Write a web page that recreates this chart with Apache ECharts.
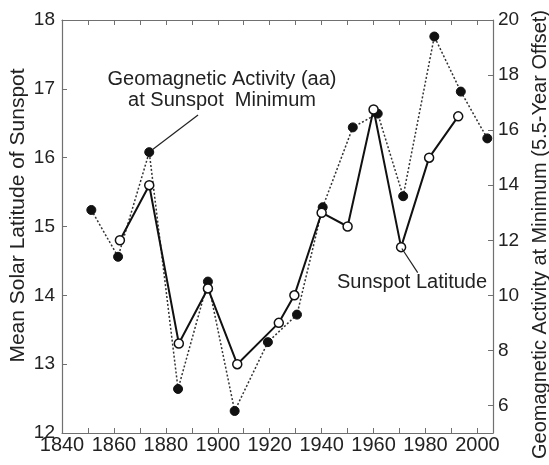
<!DOCTYPE html>
<html>
<head>
<meta charset="utf-8">
<script src="https://cdn.jsdelivr.net/npm/echarts@6/dist/echarts.min.js"></script>
<style>
  html, body { margin: 0; padding: 0; background: #fff; }
  #chart { width: 549px; height: 465px; }
</style>
</head>
<body>
<div id="chart"></div>
<script>
// sunspot latitude (left axis), open circles, solid line
const latYears = [1862.3, 1873.6, 1885.0, 1896.2, 1907.5, 1923.5, 1929.5, 1940.0, 1950.0, 1960.0, 1970.6, 1981.4, 1992.6]
const latValues = [14.8, 15.6, 13.3, 14.1, 13.0, 13.6, 14.0, 15.2, 15.0, 16.7, 14.7, 16.0, 16.6]

// geomagnetic activity aa (right axis), filled circles, dotted line
const aaYears = [1851.3, 1861.6, 1873.6, 1884.7, 1896.2, 1906.5, 1919.3, 1930.5, 1940.4, 1952.0, 1961.6, 1971.4, 1983.4, 1993.6, 2003.8]
const aaValues = [13.1, 11.4, 15.2, 6.6, 10.5, 5.8, 8.3, 9.3, 13.2, 16.1, 16.6, 13.6, 19.4, 17.4, 15.7]

const xTicks = [1840, 1850, 1860, 1870, 1880, 1890, 1900, 1910, 1920, 1930, 1940, 1950, 1960, 1970, 1980, 1990, 2000]
const xLabels = [1840, 1860, 1880, 1900, 1920, 1940, 1960, 1980, 2000]
const rightTicks = [6, 8, 10, 12, 14, 16, 18, 20]

// leader lines for the two annotations, in (year, latitude) units
const aaLeader = [[1892.4, 16.62], [1874.9, 16.12]]
const latLeader = [[1970.9, 14.68], [1977.0, 14.33]]

let latData = []
for (let i = 0; i < latYears.length; i++) {
    latData.push([latYears[i], latValues[i]])
}
let aaData = []
for (let i = 0; i < aaYears.length; i++) {
    aaData.push([aaYears[i], aaValues[i]])
}

const font = 'Liberation Sans, Arial, sans-serif'
const axisGray = '#707070'

option = {
    animation: false,
    backgroundColor: '#fff',
    textStyle: { fontFamily: font },
    grid: { left: 62, right: 56, top: 20, bottom: 32, outerBoundsMode: 'none', containLabel: false },
    xAxis: [
        {
            type: 'value',
            position: 'bottom',
            min: 1840,
            max: 2006,
            axisLine: { lineStyle: { color: axisGray, width: 1.2 } },
            axisTick: { inside: true, length: 5, customValues: xTicks, lineStyle: { color: axisGray } },
            axisLabel: {
                customValues: xLabels,
                fontSize: 20,
                color: '#222',
                margin: 2,
                fontFamily: font,
                formatter: function (v) { return String(v) }
            },
            splitLine: { show: false }
        },
        {
            type: 'value',
            position: 'top',
            min: 1840,
            max: 2006,
            axisLine: { lineStyle: { color: axisGray, width: 1.2 } },
            axisTick: { inside: true, length: 5, customValues: xTicks, lineStyle: { color: axisGray } },
            axisLabel: { show: false },
            splitLine: { show: false }
        }
    ],
    yAxis: [
        {
            type: 'value',
            position: 'left',
            min: 12,
            max: 18,
            interval: 1,
            name: 'Mean Solar Latitude of Sunspot',
            nameLocation: 'middle',
            nameRotate: 90,
            nameGap: 33,
            nameMoveOverlap: false,
            nameTextStyle: { fontSize: 21, color: '#222', fontFamily: font, padding: [0, 0, 0, 22] },
            axisLine: { lineStyle: { color: axisGray, width: 1.2 } },
            axisTick: { inside: true, length: 5, lineStyle: { color: axisGray } },
            axisLabel: { fontSize: 19, color: '#222', margin: 7, fontFamily: font },
            splitLine: { show: false }
        },
        {
            type: 'value',
            position: 'right',
            min: 5,
            max: 20,
            name: 'Geomagnetic Activity at Minimum (5.5-Year Offset)',
            nameLocation: 'middle',
            nameRotate: 90,
            nameGap: 36,
            nameTextStyle: { fontSize: 20, color: '#222', fontFamily: font, padding: [0, 16, 0, 0] },
            axisLine: { lineStyle: { color: axisGray, width: 1.2 } },
            axisTick: { inside: true, length: 5, customValues: rightTicks, lineStyle: { color: axisGray } },
            axisLabel: { customValues: rightTicks, fontSize: 19, color: '#222', margin: 5, fontFamily: font },
            splitLine: { show: false }
        }
    ],
    series: [
        {
            name: 'Geomagnetic Activity (aa)',
            type: 'line',
            xAxisIndex: 0,
            yAxisIndex: 1,
            data: aaData,
            symbol: 'circle',
            symbolSize: 9,
            lineStyle: { color: '#333', width: 1.5, type: [2, 2] },
            itemStyle: { color: '#111', borderColor: '#111', borderWidth: 1 },
            z: 2
        },
        {
            name: 'Sunspot Latitude',
            type: 'line',
            xAxisIndex: 0,
            yAxisIndex: 0,
            data: latData,
            symbol: 'circle',
            symbolSize: 9,
            showAllSymbol: true,
            lineStyle: { color: '#111', width: 2 },
            itemStyle: { color: '#fff', borderColor: '#111', borderWidth: 1.5 },
            markLine: {
                silent: true,
                symbol: 'none',
                label: { show: false },
                lineStyle: { color: '#222', width: 1.2, type: 'solid' },
                data: [
                    [{ coord: aaLeader[0] }, { coord: aaLeader[1] }],
                    [{ coord: latLeader[0] }, { coord: latLeader[1] }]
                ]
            },
            z: 3
        }
    ],
    graphic: [
        {
            type: 'text',
            x: 222,
            y: 69,
            style: {
                text: 'Geomagnetic Activity (aa)\nat Sunspot  Minimum',
                font: '20px ' + font,
                fill: '#222',
                align: 'center',
                lineHeight: 21
            }
        },
        {
            type: 'text',
            left: 337,
            top: 272,
            style: {
                text: 'Sunspot Latitude',
                font: '20px ' + font,
                fill: '#222'
            }
        }
    ]
}

const dom = document.getElementById("chart")
const myChart = echarts.init(dom)
if (option && typeof option === "object") {
    myChart.setOption(option, true)
}
</script>
</body>
</html>
